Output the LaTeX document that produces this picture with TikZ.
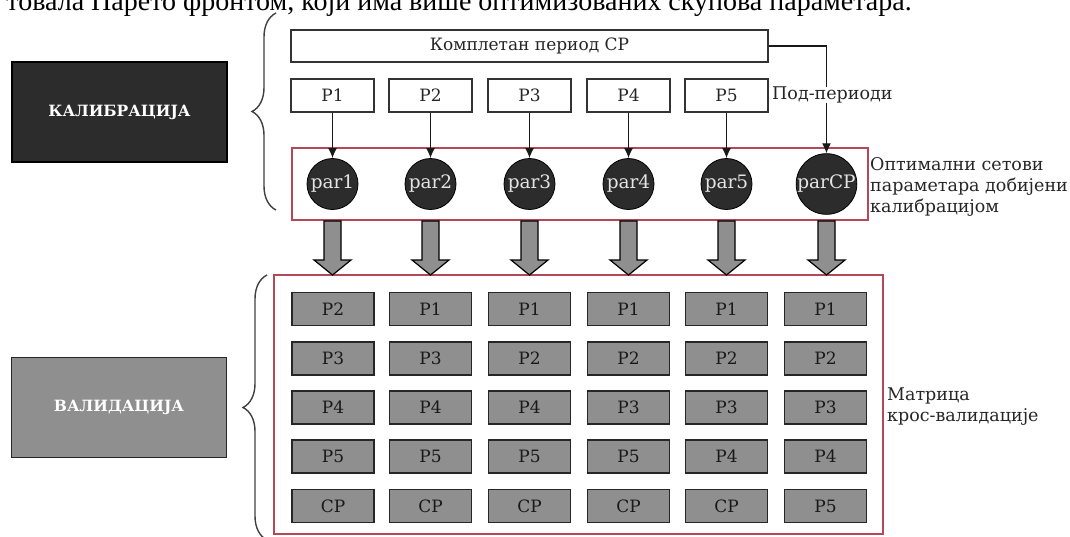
\documentclass[tikz,border=0pt]{standalone}
\usepackage{fontspec}
\setmainfont{DejaVu Serif}
\newfontfamily\bodyfont{Liberation Serif}
\usetikzlibrary{decorations.pathreplacing,arrows.meta,calc}

\definecolor{calred}{RGB}{180,72,86}
\definecolor{boxgray}{RGB}{143,143,143}
\definecolor{darkfill}{RGB}{44,44,44}
\definecolor{circtext}{RGB}{228,228,228}

\begin{document}
\begin{tikzpicture}[x=1pt,y=-1pt,
  wbox/.style={draw=black!80, line width=1.2pt, fill=white, minimum width=83pt, minimum height=33pt, inner sep=0pt, text=black!85, font=\fontsize{17}{19}\selectfont},
  gbox/.style={draw=black!85, line width=1.4pt, fill=boxgray, minimum width=82pt, minimum height=33pt, inner sep=0pt, text=black!90, font=\fontsize{17}{19}\selectfont},
  parc/.style={circle, draw=black, line width=0.8pt, fill=darkfill, minimum size=51pt, inner sep=0pt, text=circtext, font=\fontsize{18.5}{20}\selectfont},
  redbox/.style={draw=calred, line width=1.6pt, inner sep=0pt},
  conn/.style={draw=black!90, line width=1.2pt, -{Latex[length=10pt,width=9pt]}},
  brc/.style={draw=black!75, line width=1.4pt, decorate, decoration={brace, amplitude=24pt}},
  bigarrow/.style={draw=black, line width=1.2pt, fill=boxgray},
  side/.style={anchor=west, align=left, inner sep=0pt, font=\fontsize{17.5}{21}\selectfont, text=black!85},
  phase/.style={minimum width=215pt, minimum height=100pt, inner sep=0pt, line width=1.2pt, font=\bfseries\fontsize{15.5}{17}\selectfont, text=white}
]
\useasboundingbox (0,0) rectangle (1070,536);

% cropped line of running text at the top
\begin{scope}
\clip (0,0) rectangle (1070,536);
\node[anchor=base east, inner sep=0pt, font=\bodyfont\fontsize{28}{32}\selectfont] (cuttext) at (912,10) {товала Парето фронтом, који има више оптимизованих скупова параметара.};
\end{scope}

% phase boxes
\node[phase, fill=darkfill, draw=black] (cal) at (119.5,112) {КАЛИБРАЦИЈА};
\node[phase, fill=boxgray, draw=black!85] (val) at (119,407.5) {ВАЛИДАЦИЈА};

% braces
\coordinate (b1top) at (276,13);
\coordinate (b1bot) at (276,210);
\draw[brc] (b1bot) -- (b1top);
\coordinate (b2top) at (267,275);
\coordinate (b2bot) at (267,540);
\draw[brc] (b2bot) -- (b2top);

% red frames
\node[redbox, minimum width=576pt, minimum height=72pt] (calbox) at (580,184) {};
\node[redbox, line width=1.8pt, minimum width=609pt, minimum height=259pt] (valbox) at (578.5,404.5) {};

% complete period
\node[wbox, minimum width=477pt, minimum height=32pt] (full) at (529.5,46) {Комплетан период CP};

% sub-periods and parameter sets
\foreach \i/\x in {1/332.5,2/430.5,3/529.5,4/628.5,5/726.5}{
  \node[wbox] (p\i) at (\x,95.5) {P\i};
  \node[parc] (par\i) at (\x,184) {par\i};
  \draw[conn] (p\i) -- (par\i);
}
\node[parc] (parCP) at (826.5,184) {parCP};
\draw[conn] (full.east) -| (parCP);

\node[side, fill=white] (sublbl) at (772,95) {Под-периоди};
\node[side] (optlbl) at (870,187) {Оптимални сетови\\параметара добијени\\калибрацијом};

% block arrows
\foreach \x in {332.5,430.5,529.5,628.5,726.5,826.5}{
  \draw[bigarrow] (\x-8.5,221) -- (\x+8.5,221) -- (\x+8.5,260) -- (\x+18.5,260) -- (\x,275) -- (\x-18.5,260) -- (\x-8.5,260) -- cycle;
}

% cross-validation matrix
\foreach \c/\x/\la/\lb/\lc/\ld/\le in {
  1/333/P2/P3/P4/P5/CP,
  2/430.5/P1/P3/P4/P5/CP,
  3/529.5/P1/P2/P4/P5/CP,
  4/628.5/P1/P2/P3/P5/CP,
  5/726.5/P1/P2/P3/P4/CP,
  6/825.5/P1/P2/P3/P4/P5}{
  \node[gbox] (m\c a) at (\x,309) {\la};
  \node[gbox] (m\c b) at (\x,358.5) {\lb};
  \node[gbox] (m\c c) at (\x,407.5) {\lc};
  \node[gbox] (m\c d) at (\x,456.5) {\ld};
  \node[gbox] (m\c e) at (\x,506) {\le};
}
\node[side] (mlbl) at (887,407) {Матрица\\крос-валидације};
\end{tikzpicture}
\end{document}
